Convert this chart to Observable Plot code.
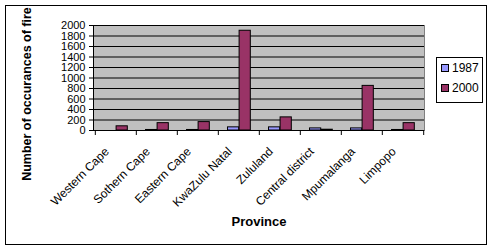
<!DOCTYPE html>
<html>
<head>
<meta charset="utf-8">
<script src="https://cdn.jsdelivr.net/npm/d3@7"></script>
<script src="https://cdn.jsdelivr.net/npm/@observablehq/plot@0.6"></script>
<style>
  body { margin: 0; background: #fff; }
  #wrap { position: relative; width: 492px; height: 248px; font-family: "Liberation Sans", Arial, sans-serif; }
  #border { position: absolute; left: 5px; top: 5px; width: 480px; height: 238px; border: 1px solid #000; pointer-events: none; }
  #legend { position: absolute; left: 436px; top: 57px; width: 45px; height: 44px; border: 1px solid #000; background: #fff; font-size: 12px; }
  .item { position: absolute; left: 4px; display: flex; align-items: center; gap: 3px; line-height: 12px; }
  .sw { width: 6px; height: 6px; border: 1px solid #000; }
</style>
</head>
<body>
<div id="wrap"><div id="chart"></div><div id="border"></div><div id="legend"></div></div>
<script>
const provinces = ["Western Cape","Sothern Cape","Eastern Cape","KwaZulu Natal","Zululand","Central district","Mpumalanga","Limpopo"];
const fires1987 = [0, 10, 10, 60, 60, 40, 40, 10];
const fires2000 = [80, 140, 160, 1900, 250, 15, 850, 140];
const seriesNames = ["1987", "2000"];
const seriesColors = ["#9999FF", "#993366"];
const yTicks = [0, 200, 400, 600, 800, 1000, 1200, 1400, 1600, 1800, 2000];
const yTitle = "Number of occurances of fire";
const xTitle = "Province";

const W = 492, H = 248, ML = 93, MR = 68, MT = 25, MB = 118;
const bw = (W - ML - MR) / provinces.length;

const d1987 = provinces.map((p, i) => ({province: p, value: fires1987[i]}));
const d2000 = provinces.map((p, i) => ({province: p, value: fires2000[i]}));

const chart = Plot.plot({
  width: W, height: H,
  marginLeft: ML, marginRight: MR, marginTop: MT, marginBottom: MB,
  style: {fontFamily: "'Liberation Sans', Arial, sans-serif", fontSize: "12px", background: "transparent", color: "#000", overflow: "visible"},
  x: {type: "band", domain: provinces, padding: 0, label: null},
  y: {domain: [0, 2000], label: null},
  marks: [
    Plot.frame({fill: "#C0C0C0", stroke: "#808080"}),
    Plot.gridY(yTicks, {stroke: "#000", strokeOpacity: 1}),
    Plot.barY(d1987, {x: "province", y: "value", fill: seriesColors[0], stroke: "#000", strokeWidth: 1, insetLeft: bw * 0.23, insetRight: bw * 0.49}),
    Plot.barY(d2000, {x: "province", y: "value", fill: seriesColors[1], stroke: "#000", strokeWidth: 1, insetLeft: bw * 0.51, insetRight: bw * 0.21}),
    Plot.ruleY([0], {stroke: "#000"}),
    (index, scales, values, dims) => {
      const g = d3.create("svg:g");
      g.append("line").attr("x1", dims.marginLeft + 0.5).attr("x2", dims.marginLeft + 0.5)
        .attr("y1", dims.marginTop).attr("y2", dims.height - dims.marginBottom).attr("stroke", "#000");
      return g.node();
    },
    Plot.axisY(yTicks, {tickSize: 4, tickPadding: 4, label: null, fontSize: 11, tickFormat: d => String(d)}),
    Plot.axisX(provinces, {tickSize: 5, tickFormat: () => "", dx: -bw / 2, label: null}),
    Plot.axisX([provinces[provinces.length - 1]], {tickSize: 5, tickFormat: () => "", dx: bw / 2, label: null}),
    Plot.axisX(provinces, {tickSize: 0, tickPadding: 19, tickRotate: -45, label: null, fontSize: 12, dx: -9}),
    Plot.text([yTitle], {frameAnchor: "left", textAnchor: "middle", dx: -67, dy: 16, rotate: -90, fontWeight: "bold", fontSize: 12.5}),
    Plot.text([xTitle], {frameAnchor: "bottom", dy: 95, fontWeight: "bold", fontSize: 13})
  ]
});
document.getElementById("chart").appendChild(chart);

const legend = document.getElementById("legend");
seriesNames.forEach((name, i) => {
  const item = document.createElement("div");
  item.className = "item";
  item.style.top = (4 + i * 20) + "px";
  item.innerHTML = `<span class="sw" style="background:${seriesColors[i]}"></span><span>${name}</span>`;
  legend.appendChild(item);
});
</script>
</body>
</html>
